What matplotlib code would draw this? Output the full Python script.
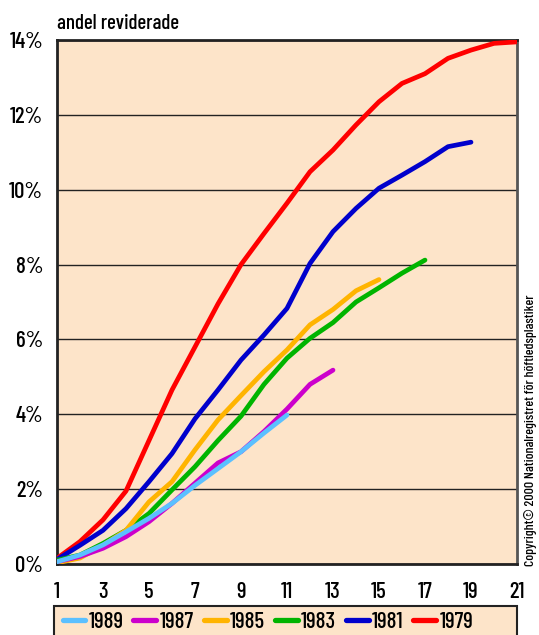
"""Andel reviderade höftleder per operationsår (kumulativ, år efter operation)."""

import matplotlib
matplotlib.use("Agg")
import matplotlib.pyplot as plt
from matplotlib.patches import Rectangle
from matplotlib.lines import Line2D
from matplotlib.ticker import FuncFormatter

plt.rcParams["font.family"] = ["Barlow Condensed", "Roboto Condensed", "Archivo Narrow",
                               "PT Sans Narrow", "Oswald", "Liberation Sans Narrow",
                               "DejaVu Sans"]
plt.rcParams["font.weight"] = "medium"

# years after operation -> cumulative share revised (%)
rev_1979 = [0.15, 0.6, 1.18, 1.95, 3.3, 4.65, 5.8, 6.95, 8.0, 8.83, 9.64,
            10.48, 11.06, 11.73, 12.35, 12.84, 13.1, 13.51, 13.73, 13.91, 13.95]
rev_1981 = [0.12, 0.5, 0.9, 1.48, 2.2, 2.95, 3.88, 4.65, 5.45, 6.12, 6.83,
            8.03, 8.88, 9.5, 10.04, 10.39, 10.75, 11.15, 11.27]
rev_1983 = [0.1, 0.24, 0.55, 0.9, 1.35, 1.98, 2.6, 3.3, 3.95, 4.8, 5.5,
            6.03, 6.45, 7.0, 7.38, 7.77, 8.12]
rev_1985 = [0.03, 0.16, 0.5, 0.9, 1.66, 2.2, 3.05, 3.85, 4.5, 5.14, 5.72,
            6.39, 6.8, 7.3, 7.6]
rev_1987 = [0.06, 0.2, 0.42, 0.73, 1.13, 1.62, 2.16, 2.7, 3.0, 3.54, 4.14,
            4.8, 5.18]
rev_1989 = [0.06, 0.24, 0.51, 0.86, 1.22, 1.62, 2.1, 2.55, 3.0, 3.5, 3.98]

series = [
    ("1979", rev_1979, "#ff0000"),
    ("1981", rev_1981, "#0000cc"),
    ("1983", rev_1983, "#00b400"),
    ("1985", rev_1985, "#ffb400"),
    ("1987", rev_1987, "#cc00cc"),
    ("1989", rev_1989, "#5bc0ff"),
]

x_ticks = list(range(1, 22, 2))
y_ticks = list(range(0, 15, 2))

BG = "#fde4c9"
LW = 3.4

fig = plt.figure(figsize=(5.39, 6.35), dpi=100)
ax = fig.add_axes([57 / 539, 71 / 635, 460 / 539, 524 / 635])
ax.set_facecolor(BG)

for label, values, color in series:
    years = list(range(1, len(values) + 1))
    ax.plot(years, values, color=color, linewidth=LW, solid_capstyle="round",
            zorder=3)

ax.set_xlim(1, 21)
ax.set_ylim(0, 14)
ax.set_xticks(x_ticks)
ax.set_yticks(y_ticks)
ax.yaxis.set_major_formatter(FuncFormatter(lambda v, _: f"{v:.0f}%"))
ax.tick_params(length=0, labelsize=16.5, pad=13)
ax.tick_params(axis="y", pad=10)
ax.grid(axis="y", color="#222222", linewidth=1.0, zorder=1)

for side in ["left", "bottom", "top"]:
    ax.spines[side].set_linewidth(2.0)
    ax.spines[side].set_color("#222222")
ax.spines["right"].set_linewidth(2.0)
ax.spines["right"].set_color("#555555")

fig.text(57 / 539, 1 - 29 / 635, "andel reviderade", fontsize=15,
         va="baseline", ha="left")

fig.text(537 / 539, 1 - 566 / 635,
         "Copyright\u00a9 2000 Nationalregistret för höftledsplastiker",
         rotation=90, fontsize=10, ha="right", va="bottom")

# legend box at the bottom
fig.patches.append(Rectangle((54 / 539, -0.01), 463 / 539, 29 / 635 + 0.01,
                             transform=fig.transFigure, facecolor=BG,
                             edgecolor="#222222", linewidth=1.5))
handles = [Line2D([], [], color=c, linewidth=LW + 0.4, solid_capstyle="round")
           for _, _, c in series[::-1]]
labels = [lab for lab, _, _ in series[::-1]]
fig.legend(handles, labels, loc="center", ncol=6, frameon=False,
           bbox_to_anchor=(268 / 539, 1 - 622 / 635), fontsize=16.5,
           handlelength=1.0, handletextpad=0.15, columnspacing=0.42,
           borderpad=0, borderaxespad=0)

fig.savefig("out.png", dpi=100, facecolor="white")
